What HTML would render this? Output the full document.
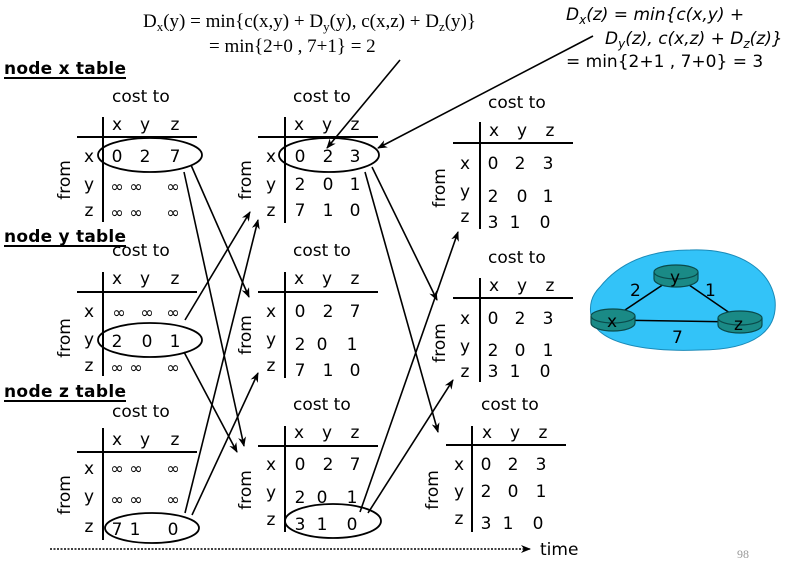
<!DOCTYPE html>
<html><head><meta charset="utf-8"><style>
body{margin:0;background:#fff}
svg{display:block}
.t{font-family:"DejaVu Sans","Liberation Sans",sans-serif;font-size:17px;fill:#000}
.c{font-family:"DejaVu Sans","Liberation Sans",sans-serif;font-size:17px;fill:#000;text-anchor:middle}
.i{font-family:"DejaVu Sans",sans-serif;font-size:16px;fill:#000;text-anchor:middle}
.s{font-family:"Liberation Serif",serif;font-size:19px;fill:#000}
</style></head><body>
<svg width="794" height="564" viewBox="0 0 794 564" xmlns="http://www.w3.org/2000/svg">
<defs><marker id="a" markerWidth="10" markerHeight="8" refX="9" refY="4" orient="auto" markerUnits="userSpaceOnUse"><path d="M0,0 L10,4 L0,8 L3,4 Z" fill="#000"/></marker></defs>

<text class="s" x="143" y="27">D<tspan font-size="13" dy="4">x</tspan><tspan dy="-4">(y) = min{c(x,y) + D</tspan><tspan font-size="13" dy="4">y</tspan><tspan dy="-4">(y), c(x,z) + D</tspan><tspan font-size="13" dy="4">z</tspan><tspan dy="-4">(y)}</tspan></text>
<text class="s" x="209" y="52">= min{2+0 , 7+1} = 2</text>
<text class="t" x="566" y="20" font-style="italic" font-size="17.5">D<tspan font-size="12" dy="4">x</tspan><tspan dy="-4">(z) = min{c(x,y) +</tspan></text>
<text class="t" x="605" y="44" font-style="italic" font-size="17.5">D<tspan font-size="12" dy="4">y</tspan><tspan dy="-4">(z), c(x,z) + D</tspan><tspan font-size="12" dy="4">z</tspan><tspan dy="-4">(z)}</tspan></text>
<text class="t" x="566" y="67">= min{2+1 , 7+0} = 3</text>

<g class="t" font-weight="bold">
<text x="4" y="74" textLength="122">node x table</text><line x1="4" y1="78" x2="126" y2="78" stroke="#000" stroke-width="2"/>
<text x="4" y="242" textLength="122">node y table</text><line x1="4" y1="246" x2="126" y2="246" stroke="#000" stroke-width="2"/>
<text x="4" y="397" textLength="122">node z table</text><line x1="4" y1="401" x2="126" y2="401" stroke="#000" stroke-width="2"/>
</g>

<g stroke="#000" stroke-width="2">
<line x1="103" y1="117" x2="103" y2="222"/><line x1="77" y1="137" x2="197" y2="137"/>
<line x1="103" y1="272" x2="103" y2="376"/><line x1="77" y1="292" x2="197" y2="292"/>
<line x1="103" y1="428" x2="103" y2="540"/><line x1="77" y1="452" x2="197" y2="452"/>
<line x1="285" y1="117" x2="285" y2="223"/><line x1="258" y1="137" x2="378" y2="137"/>
<line x1="285" y1="272" x2="285" y2="378"/><line x1="258" y1="292" x2="378" y2="292"/>
<line x1="285" y1="426" x2="285" y2="532"/><line x1="258" y1="446" x2="378" y2="446"/>
<line x1="480" y1="122" x2="480" y2="229"/><line x1="453" y1="143" x2="573" y2="143"/>
<line x1="480" y1="278" x2="480" y2="382"/><line x1="453" y1="298" x2="573" y2="298"/>
<line x1="472" y1="426" x2="472" y2="532"/><line x1="446" y1="445" x2="566" y2="445"/>
</g>

<g class="t">
<text x="112" y="102">cost to</text><text x="112" y="256">cost to</text><text x="112" y="417">cost to</text>
<text x="293" y="102">cost to</text><text x="293" y="256">cost to</text><text x="293" y="410">cost to</text>
<text x="488" y="108">cost to</text><text x="488" y="263">cost to</text><text x="481" y="410">cost to</text>
<text x="540" y="555">time</text>
<text transform="translate(70,180) rotate(-90)" text-anchor="middle">from</text>
<text transform="translate(70,338) rotate(-90)" text-anchor="middle">from</text>
<text transform="translate(70,495) rotate(-90)" text-anchor="middle">from</text>
<text transform="translate(251,180) rotate(-90)" text-anchor="middle">from</text>
<text transform="translate(251,335) rotate(-90)" text-anchor="middle">from</text>
<text transform="translate(251,490) rotate(-90)" text-anchor="middle">from</text>
<text transform="translate(445,188) rotate(-90)" text-anchor="middle">from</text>
<text transform="translate(445,343) rotate(-90)" text-anchor="middle">from</text>
<text transform="translate(438,490) rotate(-90)" text-anchor="middle">from</text>
</g>

<g class="c">
<!-- col1 table x -->
<text x="117" y="130">x</text><text x="145" y="130">y</text><text x="175" y="130">z</text>
<text x="89" y="162">x</text><text x="89" y="190">y</text><text x="89" y="216">z</text>
<text x="117" y="162">0</text><text x="145" y="162">2</text><text x="175" y="162">7</text>
<!-- col1 table y -->
<text x="117" y="284">x</text><text x="145" y="284">y</text><text x="175" y="284">z</text>
<text x="89" y="317">x</text><text x="89" y="345">y</text><text x="89" y="371">z</text>
<text x="117" y="347">2</text><text x="147" y="347">0</text><text x="175" y="347">1</text>
<!-- col1 table z -->
<text x="117" y="445">x</text><text x="145" y="445">y</text><text x="175" y="445">z</text>
<text x="89" y="474">x</text><text x="89" y="502">y</text><text x="89" y="532">z</text>
<text x="117" y="535">7</text><text x="135" y="535">1</text><text x="173" y="535">0</text>

<!-- col2 -->
<text x="299" y="130">x</text><text x="327" y="130">y</text><text x="355" y="130">z</text>
<text x="271" y="162">x</text><text x="271" y="190">y</text><text x="271" y="216">z</text>
<text x="300" y="162">0</text><text x="328" y="162">2</text><text x="355" y="162">3</text>
<text x="300" y="190">2</text><text x="328" y="190">0</text><text x="355" y="190">1</text>
<text x="300" y="216">7</text><text x="328" y="216">1</text><text x="355" y="216">0</text>

<text x="299" y="284">x</text><text x="327" y="284">y</text><text x="355" y="284">z</text>
<text x="271" y="317">x</text><text x="271" y="345">y</text><text x="271" y="371">z</text>
<text x="300" y="317">0</text><text x="328" y="317">2</text><text x="355" y="317">7</text>
<text x="300" y="350">2</text><text x="322" y="350">0</text><text x="352" y="350">1</text>
<text x="300" y="376">7</text><text x="328" y="376">1</text><text x="355" y="376">0</text>

<text x="299" y="438">x</text><text x="327" y="438">y</text><text x="355" y="438">z</text>
<text x="271" y="470">x</text><text x="271" y="498">y</text><text x="271" y="525">z</text>
<text x="300" y="470">0</text><text x="328" y="470">2</text><text x="355" y="470">7</text>
<text x="300" y="503">2</text><text x="322" y="503">0</text><text x="352" y="503">1</text>
<text x="300" y="530">3</text><text x="322" y="530">1</text><text x="352" y="530">0</text>

<!-- col3 -->
<text x="494" y="136">x</text><text x="522" y="136">y</text><text x="550" y="136">z</text>
<text x="465" y="169">x</text><text x="465" y="197">y</text><text x="465" y="222">z</text>
<text x="493" y="169">0</text><text x="520" y="169">2</text><text x="548" y="169">3</text>
<text x="493" y="202">2</text><text x="522" y="202">0</text><text x="548" y="202">1</text>
<text x="493" y="228">3</text><text x="515" y="228">1</text><text x="545" y="228">0</text>

<text x="494" y="291">x</text><text x="522" y="291">y</text><text x="550" y="291">z</text>
<text x="465" y="324">x</text><text x="465" y="352">y</text><text x="465" y="377">z</text>
<text x="493" y="324">0</text><text x="520" y="324">2</text><text x="548" y="324">3</text>
<text x="493" y="356">2</text><text x="520" y="356">0</text><text x="548" y="356">1</text>
<text x="493" y="377">3</text><text x="515" y="377">1</text><text x="545" y="377">0</text>

<text x="487" y="438">x</text><text x="515" y="438">y</text><text x="543" y="438">z</text>
<text x="459" y="470">x</text><text x="459" y="497">y</text><text x="459" y="524">z</text>
<text x="486" y="470">0</text><text x="513" y="470">2</text><text x="541" y="470">3</text>
<text x="486" y="497">2</text><text x="513" y="497">0</text><text x="541" y="497">1</text>
<text x="486" y="529">3</text><text x="508" y="529">1</text><text x="538" y="529">0</text>
</g>

<g class="i">
<text x="117" y="192">∞</text><text x="136" y="192">∞</text><text x="173" y="192">∞</text>
<text x="117" y="218">∞</text><text x="136" y="218">∞</text><text x="173" y="218">∞</text>
<text x="119" y="318">∞</text><text x="147" y="318">∞</text><text x="173" y="318">∞</text>
<text x="117" y="373">∞</text><text x="136" y="373">∞</text><text x="173" y="373">∞</text>
<text x="117" y="474">∞</text><text x="136" y="474">∞</text><text x="173" y="474">∞</text>
<text x="117" y="505">∞</text><text x="136" y="505">∞</text><text x="173" y="505">∞</text>
</g>
<text x="737" y="558" font-family="Liberation Serif,serif" font-size="12" fill="#999">98</text>

<g fill="none" stroke="#000" stroke-width="1.8">
<ellipse cx="150" cy="155" rx="52" ry="17"/>
<ellipse cx="329" cy="155" rx="50" ry="17"/>
<ellipse cx="150" cy="340" rx="52" ry="17"/>
<ellipse cx="152" cy="528" rx="47" ry="15"/>
<ellipse cx="333" cy="521" rx="48" ry="17"/>
</g>

<g stroke="#000" stroke-width="1.6" marker-end="url(#a)">
<line x1="191" y1="165" x2="249" y2="297"/>
<line x1="184" y1="172" x2="244" y2="446"/>
<line x1="185" y1="320" x2="250" y2="212"/>
<line x1="184" y1="352" x2="237" y2="452"/>
<line x1="185" y1="513" x2="258" y2="220"/>
<line x1="192" y1="515" x2="258" y2="373"/>
<line x1="372" y1="167" x2="437" y2="300"/>
<line x1="365" y1="172" x2="438" y2="432"/>
<line x1="360" y1="512" x2="458" y2="232"/>
<line x1="368" y1="513" x2="453" y2="380"/>
<line x1="400" y1="60" x2="327" y2="148"/>
<line x1="593" y1="36" x2="378" y2="148"/>
<line x1="50" y1="549" x2="530" y2="549" stroke-dasharray="2,1.5"/>
</g>

<path d="M600,287 C620,262 650,250 690,250 C740,248 770,270 775,300 C778,330 755,350 700,350 C650,352 600,345 592,320 C588,305 592,295 600,287 Z" fill="#33c3f8" stroke="#1a8ab8" stroke-width="1"/>
<g stroke="#000" stroke-width="1.5"><line x1="613" y1="318" x2="676" y2="276"/><line x1="676" y1="276" x2="740" y2="320"/><line x1="613" y1="320" x2="740" y2="322"/></g>
<g stroke="#0a4a4a" stroke-width="1.2" fill="#1a8a86">
<path d="M654,272 v7 a22,8 0 0 0 44,0 v-7"/><ellipse cx="676" cy="272" rx="22" ry="7"/>
<path d="M591,316 v7 a22,8 0 0 0 44,0 v-7"/><ellipse cx="613" cy="316" rx="22" ry="7"/>
<path d="M718,318 v7 a22,8 0 0 0 44,0 v-7"/><ellipse cx="740" cy="318" rx="22" ry="7"/>
</g>
<g class="t" font-size="19"><text x="670" y="283">y</text><text x="607" y="327">x</text><text x="734" y="330">z</text>
<text x="630" y="296">2</text><text x="705" y="296">1</text><text x="672" y="343">7</text></g>
</svg>
</body></html>
